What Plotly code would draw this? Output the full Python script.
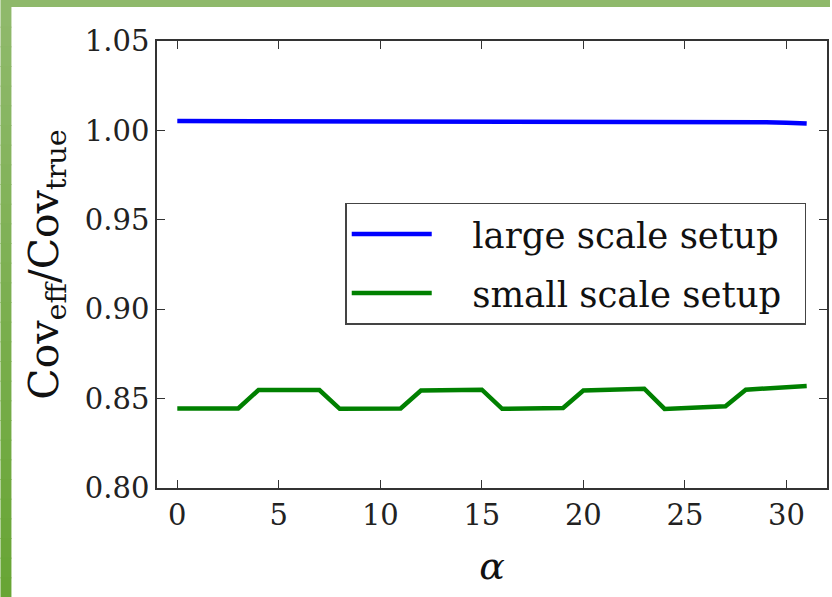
import plotly.graph_objects as go

# alpha index
alpha = list(range(32))

# covariance ratio, large scale setup
large_scale = [1.0052, 1.0052, 1.0052, 1.0051, 1.0049, 1.0049, 1.0049, 1.0049,
               1.0051, 1.0051, 1.0050, 1.0050, 1.0049, 1.0049, 1.0049, 1.0049,
               1.0051, 1.0050, 1.0050, 1.0049, 1.0049, 1.0049, 1.0048, 1.0047,
               1.0050, 1.0050, 1.0048, 1.0047, 1.0047, 1.0046, 1.0043, 1.0039]

# covariance ratio, small scale setup
small_scale = [0.8445, 0.8445, 0.8445, 0.8445, 0.8548, 0.8548, 0.8548, 0.8548,
               0.8443, 0.8443, 0.8443, 0.8445, 0.8545, 0.8547, 0.8547, 0.8550,
               0.8443, 0.8443, 0.8445, 0.8448, 0.8545, 0.8548, 0.8550, 0.8555,
               0.8442, 0.8445, 0.8450, 0.8457, 0.8550, 0.8555, 0.8560, 0.8570]

series_names = ["large scale setup", "small scale setup"]
series_colors = ["#0000ff", "#008000"]

W, H = 832, 597
ML, MR, MT, MB = 157, 3, 41, 109
PW, PH = W - ML - MR, H - MT - MB

SERIF = "DejaVu Serif"


def px_x(p):
    return (p - ML) / PW


def px_y(p):
    return (H - MB - p) / PH


fig = go.Figure()
for i, (name, ys, col) in enumerate(zip(series_names, [large_scale, small_scale], series_colors)):
    fig.add_trace(go.Scatter(x=alpha, y=ys, mode="lines",
                             name="\u2003" + name + "\u2002",
                             legendgroup="g%d" % i,
                             line=dict(color=col, width=4.5)))

# green frame on the left and top edges
shapes = []
shapes.append(dict(type="rect", xref="paper", yref="paper",
                   x0=px_x(0), x1=px_x(W), y0=px_y(0), y1=px_y(7),
                   fillcolor="#8fb96b", line=dict(width=0), layer="below"))
n = 30
c0 = (0x8f, 0xb9, 0x6b)
c1 = (0x68, 0xa5, 0x35)
for i in range(n):
    t = i / (n - 1)
    c = tuple(int(round(a + (b - a) * t)) for a, b in zip(c0, c1))
    y_top = 7 + (H - 7) * i / n
    y_bot = 7 + (H - 7) * (i + 1) / n + 1
    shapes.append(dict(type="rect", xref="paper", yref="paper",
                       x0=px_x(0), x1=px_x(11), y0=px_y(min(y_bot, H)), y1=px_y(y_top),
                       fillcolor="rgb(%d,%d,%d)" % c, line=dict(width=0), layer="below"))

axis_common = dict(showgrid=False, zeroline=False, showline=True, mirror="ticks",
                   linecolor="#333333", linewidth=1.5, ticks="inside", ticklen=8,
                   tickwidth=1.2, tickcolor="#333333",
                   tickfont=dict(family=SERIF, size=29, color="#222222"))

fig.update_layout(
    width=W, height=H,
    margin=dict(l=ML, r=MR, t=MT, b=MB),
    paper_bgcolor="white", plot_bgcolor="white",
    shapes=shapes,
    xaxis=dict(range=[-1, 32], tickvals=[0, 5, 10, 15, 20, 25, 30],
               title=dict(text="<i>α</i>", font=dict(family=SERIF, size=38, color="#111111"),
                          standoff=22),
               **axis_common),
    yaxis=dict(range=[0.80, 1.05], tickvals=[0.80, 0.85, 0.90, 0.95, 1.00, 1.05],
               tickformat=".2f",
               title=dict(text="Cov<sub>eff</sub>/Cov<sub>true</sub>",
                          font=dict(family=SERIF, size=41, color="#111111"),
                          standoff=14),
               **axis_common),
    legend=dict(x=0.969, y=0.638, xanchor="right", yanchor="top",
                bgcolor="white", bordercolor="#444444", borderwidth=1.5,
                font=dict(family=SERIF, size=35.5, color="#111111"),
                itemwidth=80, tracegroupgap=10),
    showlegend=True,
)

fig.write_html("out.html")
